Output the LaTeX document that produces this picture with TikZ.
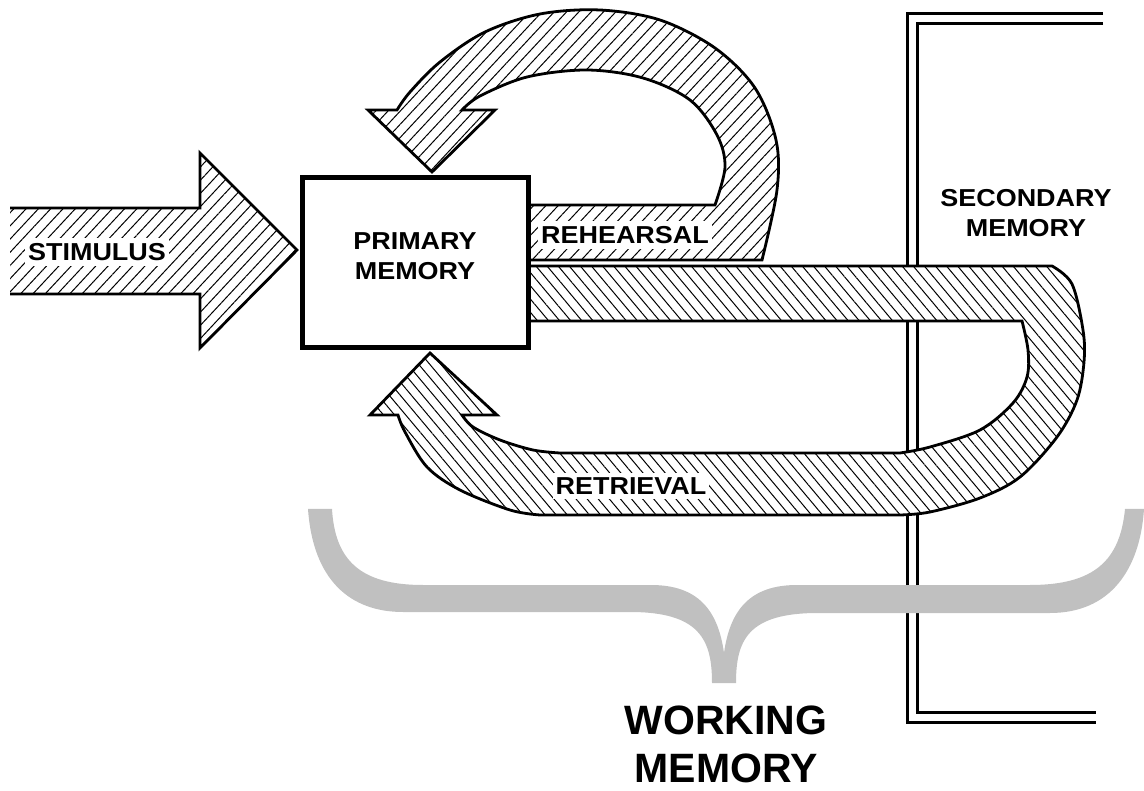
\documentclass[tikz,border=0pt]{standalone}
\usepackage{fontspec}
\usetikzlibrary{patterns.meta}
\newfontfamily\lblfont[FakeStretch=1.1]{Liberation Sans}
\newfontfamily\bigfont{Liberation Sans}
\definecolor{bracegray}{HTML}{C0C0C0}
\tikzset{
  outline/.style={line width=2.8pt, line join=miter},
  hatchfw/.style={preaction={fill=white}, pattern={Lines[angle=47,distance=9pt,line width=1pt]}},
  hatchbk/.style={preaction={fill=white}, pattern={Lines[angle=-50,distance=8.5pt,line width=1pt]}},
  lbl/.style={font={\lblfont\bfseries\fontsize{24.5pt}{30pt}\selectfont}, align=center, inner sep=0pt},
  tag/.style={lbl, fill=white, inner xsep=3pt, inner ysep=5pt, text depth=0pt},
  rail/.style={line width=3pt, line join=miter},
}
\begin{document}
\begin{tikzpicture}[x=1pt, y=-1pt]
\useasboundingbox (0,0) rectangle (1144,791);

% secondary memory frame (double rule)
\draw[rail] (1103,14) -- (907,14) -- (907,722) -- (1096,722);
\draw[rail] (1103,24) -- (917,24) -- (917,712) -- (1096,712);

% working memory brace
\fill[bracegray] (308,509) .. controls (313,580) and (350,612) .. (403,612)
  -- (630,612) .. controls (700,612) and (712,640) .. (712,683)
  -- (736,683) .. controls (736,640) and (748,613) .. (818,613)
  -- (1050,613) .. controls (1110,613) and (1140,570) .. (1144,509)
  -- (1125,509) .. controls (1120,560) and (1095,585) .. (1030,585)
  -- (797,585) .. controls (750,585) and (730,610) .. (724,653)
  .. controls (718,610) and (698,585) .. (651,585)
  -- (423,585) .. controls (360,585) and (335,560) .. (332,509) -- cycle;

% stimulus arrow
\path[hatchfw] (10,208) -- (200,208) -- (200,153) -- (297,250) -- (200,348)
  -- (200,294) -- (10,294) -- cycle;
\draw[outline] (10,208) -- (200,208) -- (200,153) -- (297,250) -- (200,348)
  -- (200,294) -- (10,294);

% rehearsal loop
\draw[outline, hatchfw] (528,260) -- (762,260)
  -- plot[smooth, tension=0.55] coordinates {(762,260) (777,190) (776,140) (755,88) (715,48) (660,20) (600,10) (540,14) (485,32) (440,62) (410,92) (397,110)}
  -- (368,110) -- (432,172) -- (495,110) -- (462,110)
  -- plot[smooth, tension=0.55] coordinates {(462,110) (480,96) (527,77) (587,70) (643,78) (690,100) (717,135) (725,167) (715,205)}
  -- (528,205) -- cycle;

% retrieval loop
\draw[outline, hatchbk] (528,266) -- (1052,266)
  -- plot[smooth, tension=0.55] coordinates {(1052,266) (1072,284) (1083,330) (1084,362) (1077,400) (1057,437) (1020,477) (980,498) (930,512) (900,515)}
  -- (540,515)
  -- plot[smooth, tension=0.55] coordinates {(540,515) (510,510) (460,490) (427,467) (405,432) (398,415)}
  -- (370,415) -- (430,353) -- (497,415) -- (462,415)
  -- plot[smooth, tension=0.55] coordinates {(462,415) (473,427) (500,440) (533,450) (560,453)}
  -- (900,453)
  -- plot[smooth, tension=0.55] coordinates {(900,453) (930,447) (980,430) (1013,403) (1027,377) (1028,350) (1022,321)}
  -- (528,321) -- cycle;

% primary memory box
\node[draw, fill=white, line width=5pt, minimum width=226pt, minimum height=170pt, inner sep=0pt] (pm) at (415,263) {};
\node[lbl] (pmtext) at (415,256) {PRIMARY\\MEMORY};

% labels
\node[tag] (stim) at (97,252) {STIMULUS};
\node[tag] (reh) at (625,235) {REHEARSAL};
\node[tag] (ret) at (631,486) {RETRIEVAL};
\node[lbl] (sec) at (1026,213) {SECONDARY\\MEMORY};
\node[font={\bigfont\bfseries\fontsize{41pt}{48pt}\selectfont}, align=center, inner sep=0pt] (wm) at (726,744) {WORKING\\MEMORY};
\end{tikzpicture}
\end{document}
